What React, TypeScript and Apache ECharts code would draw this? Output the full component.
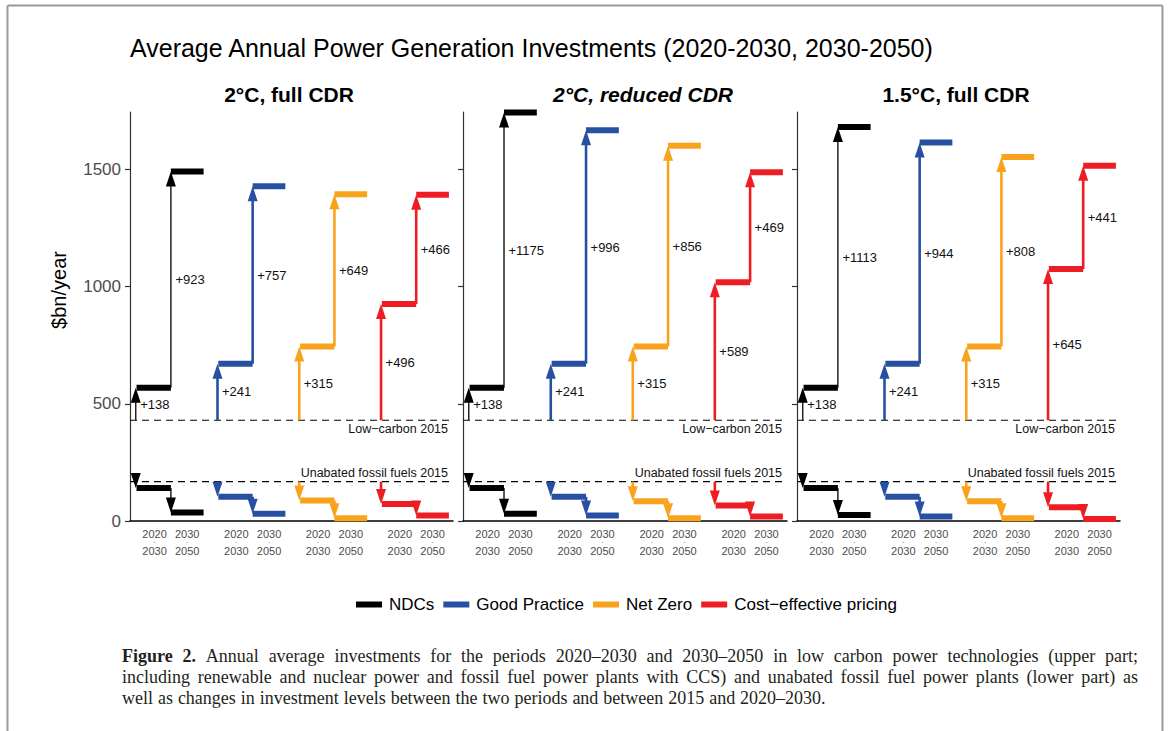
import React, { useEffect, useRef } from "react";
import * as echarts from "echarts";

// ---------- data ----------
const panelTitles = ["2°C, full CDR", "2°C, reduced CDR", "1.5°C, full CDR"];
const scenarios = ["NDCs", "Good Practice", "Net Zero", "Cost−effective pricing"];
const scenarioColors = ["#000000", "#2750A3", "#F8A31B", "#EE1D24"];
const periodStart = ["2020", "2030"];
const periodEnd = ["2030", "2050"];
const yTicks = [0, 500, 1000, 1500];

const lowCarbon2015 = 430;
const fossil2015 = 168;
// low-carbon change 2015 -> 2020-2030, per panel, per scenario
const lcChange1 = [
  [138, 241, 315, 496],
  [138, 241, 315, 589],
  [138, 241, 315, 645],
];
// low-carbon change 2020-2030 -> 2030-2050
const lcChange2 = [
  [923, 757, 649, 466],
  [1175, 996, 856, 469],
  [1113, 944, 808, 441],
];
// unabated fossil investments
const fossil2030 = [
  [141, 103, 87, 73],
  [141, 103, 84, 66],
  [141, 103, 84, 59],
];
const fossil2050 = [
  [36, 31, 12, 23],
  [31, 23, 12, 19],
  [26, 19, 12, 9],
];

const captionLines = [
  "Figure 2. Annual average investments for the periods 2020–2030 and 2030–2050 in low carbon power technologies (upper part;",
  "including renewable and nuclear power and fossil fuel power plants with CCS) and unabated fossil fuel power plants (lower part) as",
  "well as changes in investment levels between the two periods and between 2015 and 2020–2030.",
];

// ---------- layout ----------
const SANS = "'Liberation Sans', Arial, sans-serif";
const SERIF = "'Liberation Serif', 'Times New Roman', serif";
const GRID_TOP = 112;
const GRID_H = 409;
const gridLefts = [130, 463, 797];
const gridWidths = [323, 324, 323];
const X_MIN = 0.5;
const X_MAX = 4.45;
const Y_MAX = 1745;
const BAR_H = 6;
const HEAD_L = 15;
const HEAD_W = 10;

type Row =
  | { kind: "bar"; x0: number; x1: number; y: number }
  | { kind: "arrow"; x: number; y0: number; y1: number; label?: string };

function makeRenderer(rows: Row[], color: string, isBlack: boolean) {
  return (params: any, api: any) => {
    const r = rows[params.dataIndex];
    if (r.kind === "bar") {
      const a = api.coord([r.x0, r.y]);
      const b = api.coord([r.x1, r.y]);
      return {
        type: "rect",
        shape: { x: a[0], y: a[1] - BAR_H / 2, width: b[0] - a[0], height: BAR_H },
        style: { fill: color },
      };
    }
    const a = api.coord([r.x, r.y0]);
    const b = api.coord([r.x, r.y1]);
    const dir = b[1] > a[1] ? 1 : -1;
    const baseY = b[1] - dir * HEAD_L;
    const children: any[] = [];
    if ((baseY - a[1]) * dir > 0) {
      children.push({
        type: "line",
        shape: { x1: a[0], y1: a[1], x2: a[0], y2: baseY + dir * 1 },
        style: { stroke: isBlack ? "#222" : color, lineWidth: isBlack ? 1.5 : 2.6 },
      });
    }
    children.push({
      type: "polygon",
      shape: {
        points: [
          [b[0], b[1]],
          [b[0] - HEAD_W / 2, baseY],
          [b[0] + HEAD_W / 2, baseY],
        ],
      },
      style: { fill: color },
    });
    if (r.label) {
      children.push({
        type: "text",
        x: a[0] + 4.5,
        y: (a[1] + b[1]) / 2,
        style: {
          text: r.label,
          fill: "#111",
          fontSize: 13,
          fontFamily: SANS,
          align: "left",
          verticalAlign: "middle",
        },
      });
    }
    return { type: "group", children };
  };
}

function buildCaption(): any[] {
  const canvas = document.createElement("canvas");
  const ctx = canvas.getContext("2d")!;
  const FS = 18;
  const measure = (t: string, bold: boolean) => {
    ctx.font = `${bold ? "bold " : ""}${FS}px ${SERIF}`;
    return ctx.measureText(t).width;
  };
  const left = 122;
  const right = 1138;
  const ys = [656, 677, 698];
  const out: any[] = [];
  captionLines.forEach((line, li) => {
    const words = line.split(" ");
    const bolds = words.map((_, wi) => li === 0 && wi < 2);
    const widths = words.map((w, wi) => measure(w, bolds[wi]));
    const sum = widths.reduce((s, v) => s + v, 0);
    const justify = li < captionLines.length - 1;
    let gap = justify ? (right - left - sum) / (words.length - 1) : measure(" ", false) * 1.1;
    if (gap < 2) gap = 2;
    let x = left;
    words.forEach((w, wi) => {
      out.push({
        type: "text",
        x,
        y: ys[li],
        silent: true,
        style: {
          text: w,
          fill: "#231f20",
          fontSize: FS,
          fontFamily: SERIF,
          fontWeight: bolds[wi] ? "bold" : "normal",
          align: "left",
          verticalAlign: "middle",
        },
      });
      x += widths[wi] + gap;
    });
  });
  return out;
}

function buildOption() {
  const grids = gridLefts.map((l, i) => ({
    left: l,
    top: GRID_TOP,
    width: gridWidths[i],
    height: GRID_H,
  }));

  const labelValues: number[] = [];
  for (let g = 1; g <= scenarios.length; g++) {
    labelValues.push(g - 0.2, g + 0.2);
  }

  const xAxes = panelTitles.map((_, p) => ({
    type: "value",
    gridIndex: p,
    min: X_MIN,
    max: X_MAX,
    axisLine: { show: true, onZero: false, lineStyle: { color: "#000", width: 1.5 } },
    axisTick: { show: false },
    splitLine: { show: false },
    axisLabel: {
      show: true,
      customValues: labelValues,
      formatter: (v: number) => {
        const frac = Math.round((v - Math.floor(v)) * 10);
        const k = frac === 8 ? 0 : 1;
        return `{a|${periodStart[k]}}\n{b|-}\n{a|${periodEnd[k]}}`;
      },
      color: "#4d4d4d",
      fontFamily: SANS,
      margin: 7,
      rich: {
        a: { fontSize: 11, lineHeight: 11, color: "#4d4d4d", fontFamily: SANS },
        b: { fontSize: 6, lineHeight: 6, color: "#4d4d4d", fontFamily: SANS },
      },
    },
  }));

  const yAxes = panelTitles.map((_, p) => ({
    type: "value",
    gridIndex: p,
    min: yTicks[0],
    max: Y_MAX,
    interval: yTicks[1] - yTicks[0],
    axisLine: { show: true, lineStyle: { color: "#333", width: 1.2 } },
    axisTick: {
      show: true,
      length: 5,
      customValues: yTicks,
      lineStyle: { color: "#333", width: 1.2 },
    },
    splitLine: { show: false },
    axisLabel: {
      show: p === 0,
      customValues: yTicks,
      formatter: (v: number) => String(v),
      fontSize: 17,
      color: "#4d4d4d",
      fontFamily: SANS,
      margin: 9,
    },
  }));

  const series: any[] = [];

  // reference (2015) dashed lines
  panelTitles.forEach((_, p) => {
    const refs = [
      { y: lowCarbon2015, text: "Low−carbon 2015", below: true },
      { y: fossil2015, text: "Unabated fossil fuels 2015", below: false },
    ];
    series.push({
      type: "custom",
      xAxisIndex: p,
      yAxisIndex: p,
      silent: true,
      clip: false,
      data: refs.map((r) => [X_MIN, r.y]),
      renderItem: (params: any, api: any) => {
        const r = refs[params.dataIndex];
        const cs = params.coordSys;
        const pt = api.coord([X_MIN, r.y]);
        return {
          type: "group",
          children: [
            {
              type: "line",
              shape: { x1: cs.x, y1: pt[1], x2: cs.x + cs.width, y2: pt[1] },
              style: { stroke: "#000", lineWidth: 1.1, lineDash: [7, 5] },
            },
            {
              type: "text",
              x: cs.x + cs.width - 5,
              y: pt[1] + (r.below ? 9 : -9),
              style: {
                text: r.text,
                fill: "#111",
                fontSize: 12.5,
                fontFamily: SANS,
                align: "right",
                verticalAlign: "middle",
              },
            },
          ],
        };
      },
    });
  });

  panelTitles.forEach((_, p) => {
    scenarios.forEach((name, s) => {
      const g = s + 1;
      const lc1 = lowCarbon2015 + lcChange1[p][s];
      const lc2 = lc1 + lcChange2[p][s];
      const f1 = fossil2030[p][s];
      const f2 = fossil2050[p][s];
      const rows: Row[] = [
        { kind: "arrow", x: g - 0.43, y0: lowCarbon2015, y1: lc1, label: "+" + lcChange1[p][s] },
        { kind: "arrow", x: g, y0: lc1, y1: lc2, label: "+" + lcChange2[p][s] },
        { kind: "bar", x0: g - 0.42, x1: g, y: lc1 },
        { kind: "bar", x0: g, x1: g + 0.4, y: lc2 },
        { kind: "arrow", x: g - 0.43, y0: fossil2015, y1: f1 },
        { kind: "arrow", x: g, y0: f1, y1: f2 },
        { kind: "bar", x0: g - 0.42, x1: g, y: f1 },
        { kind: "bar", x0: g, x1: g + 0.4, y: f2 },
      ];
      series.push({
        type: "custom",
        name,
        xAxisIndex: p,
        yAxisIndex: p,
        clip: false,
        itemStyle: { color: scenarioColors[s] },
        data: rows.map((r) => (r.kind === "bar" ? [r.x0, r.y] : [r.x, r.y1])),
        renderItem: makeRenderer(rows, scenarioColors[s], s === 0),
      });
    });
  });

  const panelCenters = [289, 643, 956];
  const graphics: any[] = [
    // page frame
    { type: "line", silent: true, shape: { x1: 7.5, y1: 5.5, x2: 1162.5, y2: 5.5 }, style: { stroke: "#9a9a9a", lineWidth: 2 } },
    { type: "line", silent: true, shape: { x1: 7.5, y1: 5.5, x2: 7.5, y2: 731 }, style: { stroke: "#9a9a9a", lineWidth: 2 } },
    { type: "line", silent: true, shape: { x1: 1162.5, y1: 5.5, x2: 1162.5, y2: 731 }, style: { stroke: "#9a9a9a", lineWidth: 2 } },
    {
      type: "text",
      x: 130,
      y: 48,
      silent: true,
      style: {
        text: "Average Annual Power Generation Investments (2020-2030, 2030-2050)",
        fill: "#000",
        fontSize: 25,
        fontFamily: SANS,
        align: "left",
        verticalAlign: "middle",
      },
    },
    {
      type: "text",
      x: 59,
      y: 290,
      rotation: Math.PI / 2,
      silent: true,
      style: {
        text: "$bn/year",
        fill: "#000",
        fontSize: 20,
        fontFamily: SANS,
        align: "center",
        verticalAlign: "middle",
      },
    },
    ...panelTitles.map((t, p) => ({
      type: "text",
      x: panelCenters[p],
      y: 94,
      silent: true,
      style: {
        text: t,
        fill: "#000",
        fontSize: 21,
        fontWeight: "bold",
        fontStyle: p === 1 ? "italic" : "normal",
        fontFamily: SANS,
        align: "center",
        verticalAlign: "middle",
      },
    })),
    ...buildCaption(),
  ];

  return {
    animation: false,
    backgroundColor: "#ffffff",
    textStyle: { fontFamily: SANS },
    grid: grids,
    xAxis: xAxes,
    yAxis: yAxes,
    legend: {
      data: scenarios.map((n, i) => ({ name: n, icon: "rect", itemStyle: { color: scenarioColors[i] } })),
      left: 351,
      top: 591,
      itemWidth: 26,
      itemHeight: 6,
      itemGap: 9,
      selectedMode: false,
      textStyle: { fontSize: 17, color: "#000", fontFamily: SANS, padding: [0, 0, 0, 2] },
    },
    series,
    graphic: graphics,
  };
}

export default function App() {
  const ref = useRef<HTMLDivElement>(null);
  useEffect(() => {
    if (!ref.current) return;
    const chart = echarts.init(ref.current, null, { renderer: "svg" });
    chart.setOption(buildOption() as any);
    return () => chart.dispose();
  }, []);
  return (
    <div
      ref={ref}
      style={{ position: "fixed", left: 0, top: 0, width: 1169, height: 731, background: "#fff" }}
    />
  );
}
